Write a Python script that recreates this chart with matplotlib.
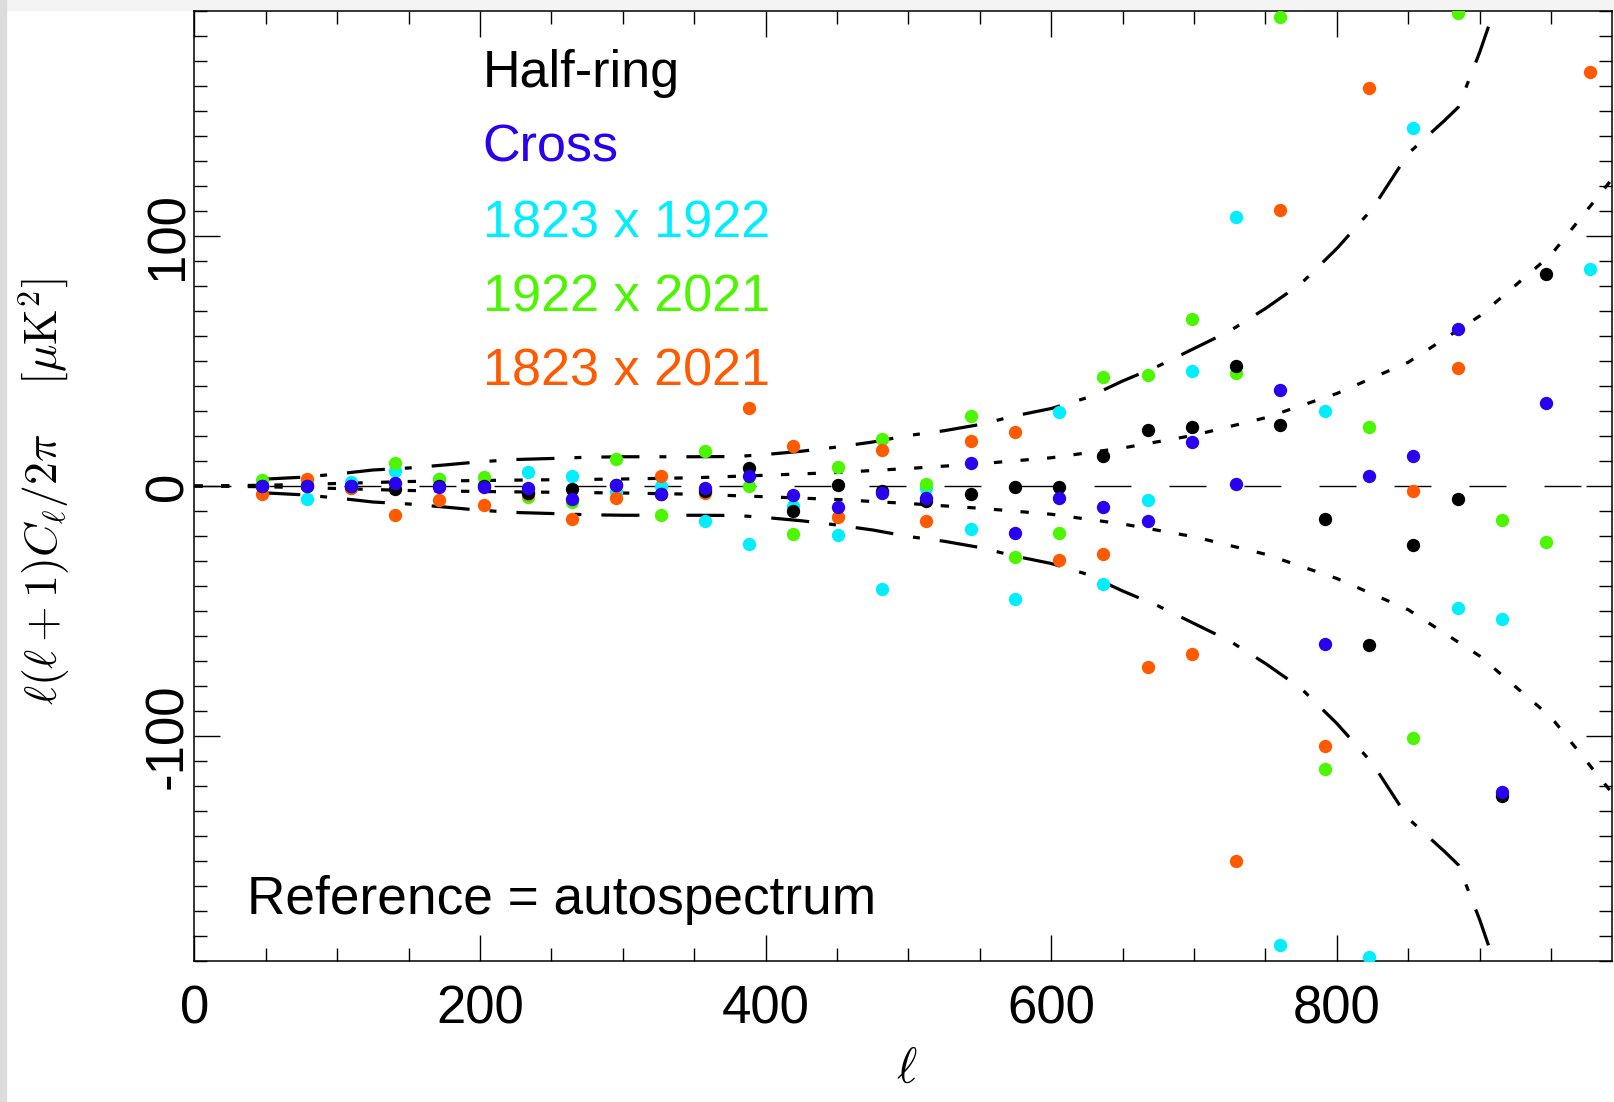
import numpy as np
import matplotlib
matplotlib.use('Agg')
import matplotlib.pyplot as plt
from matplotlib.ticker import MultipleLocator
from matplotlib.patches import Rectangle

plt.rcParams['font.family'] = ['Liberation Sans', 'DejaVu Sans']
plt.rcParams['mathtext.fontset'] = 'cm'
plt.rcParams['lines.scale_dashes'] = False
plt.rcParams['axes.unicode_minus'] = False

nan = np.nan

# bin centres in multipole
ell = 47.5 + 31 * np.arange(31)

half_ring = [0, 0, 0, -1, 0, 0, -2.7, -1.2, 0.3, -3.3,
             -1.9, 7.1, -10, 0.5, -2, -5.9, -3.2, -0.5, -0.2, 12.1,
             22.5, 23.5, 48.1, 24.3, -13.2, -63.7, -23.5, -5.3, -124.1, 84.8,
             nan]
cross = [0, 0, 0, 1.2, -0.4, -0.3, -0.7, -5.3, 0.6, -3,
         -0.6, 4, -3.6, -8.5, -2.6, -4.8, 9.2, -18.6, -4.7, -8.5,
         -14, 17.7, 0.8, 38.4, -63.3, 4.1, 11.9, 63, -122.2, 33.3,
         nan]
x1823_1922 = [0.5, -5, 1.5, 6.2, 2.8, 0.5, 5.7, 3.9, -2.3, 0,
              -13.9, -23, -7.9, -19.5, -41, -0.6, -17, -45.3, 29.8, -39.2,
              -5.7, 46.1, 107.7, -183.6, 30, -188.4, 143.3, -48.7, -53.1, nan,
              86.8]
x1922_2021 = [2.6, 1, -0.8, 9.4, 3, 3.5, -4.4, -6.3, 10.7, -11.6,
              14.2, 0, -19, 7.6, 19, 1, 28.2, -28.2, -18.6, 43.5,
              44.6, 66.8, 45.4, 187.5, -113.2, 23.5, -100.7, 189.3, -13.6, -22.2,
              nan]
x1823_2021 = [-3, 3, -0.7, -11.5, -5.7, -7.5, -3.3, -13, -4.8, 4,
              -2.6, 31.4, 16.1, -12.5, 14.6, -14, 18.2, 21.7, -29.7, -27.3,
              -72.5, -67, -149.9, 110.4, -104, 159.4, -2, 47.2, nan, nan,
              165.7]

# outer envelope (dash-dot)
outer_ell = [47.5, 75, 100, 125, 150, 175, 200, 225, 250, 275, 300, 350, 380,
             400, 425, 450, 475, 500, 525, 550, 575, 600, 625, 650, 675, 700,
             725, 750, 775, 800, 825, 850, 875, 885, 900, 925]
outer_err = [2.7, 3.5, 4.8, 6.4, 7.2, 8.4, 9.7, 10.6, 11.0, 11.5, 11.7, 11.7, 11.8,
             12.6, 13.9, 15.6, 17.6, 20.2, 22.1, 24.6, 28.1, 31.0, 35.3, 42, 48, 55,
             62, 71, 81, 95, 111, 133, 146, 151.5, 173.5, 215]

# inner envelope (dotted)
inner_ell = [0, 50, 100, 150, 200, 250, 300, 350, 400, 450, 500, 550, 600,
             650, 700, 750, 800, 850, 900, 950, 993]
inner_err = [0, 0.3, 1.0, 1.8, 2.2, 2.5, 2.8, 3.3, 4.3, 5.4, 7.0, 8.9, 11.3,
             15.2, 20.3, 27.3, 37, 49.5, 68, 92.5, 123]

series = [
    ('1823 x 1922', x1823_1922, '#00eeff'),
    ('1922 x 2021', x1922_2021, '#4cf500'),
    ('1823 x 2021', x1823_2021, '#ff5a00'),
    ('Half-ring', half_ring, '#000000'),
    ('Cross', cross, '#2a00ee'),
]
legend_order = ['Half-ring', 'Cross', '1823 x 1922', '1922 x 2021', '1823 x 2021']

fig = plt.figure(figsize=(16.14, 11.02), dpi=100)
W, H = 1614, 1102
ax = fig.add_axes([194.4 / W, (H - 961) / H, (1612.5 - 194.4) / W, (961 - 11) / H])

# screenshot borders
fig.patches.append(Rectangle((0, 1 - 10 / H), 1, 10 / H, transform=fig.transFigure,
                             color='#f4f4f4', zorder=-5))
fig.patches.append(Rectangle((0, 0), 6 / W, 1, transform=fig.transFigure,
                             color='#dcdcdc', zorder=-4))

ax.axhline(0, color='black', lw=1.0, dashes=(26.6, 27.4))

oe = np.array(outer_err)
ie = np.array(inner_err)
dashdot = (27.4, 14.4, 5.0, 14.4)
dotted = (6.0, 13.2)
ax.plot(outer_ell, oe, color='black', lw=2.3, dashes=dashdot)
ax.plot(outer_ell, -oe, color='black', lw=2.3, dashes=dashdot)
ax.plot(inner_ell, ie, color='black', lw=2.3, dashes=dotted)
ax.plot(inner_ell, -ie, color='black', lw=2.3, dashes=dotted)

for name, vals, col in series:
    ax.plot(ell, vals, 'o', color=col, ms=9.6, mew=0, zorder=4)

colors = {name: col for name, vals, col in series}
baselines = [0.9203, 0.8414, 0.7618, 0.6835, 0.6053]
for name, yb in zip(legend_order, baselines):
    ax.text(0.2033, yb, name, color=colors[name], fontsize=37.5,
            transform=ax.transAxes, va='baseline')

ax.text(0.037, 0.0495, 'Reference = autospectrum', fontsize=38.3,
        transform=ax.transAxes, va='baseline')

ax.set_xlim(0, 993)
ax.set_ylim(-190, 190)
ax.xaxis.set_major_locator(MultipleLocator(200))
ax.xaxis.set_minor_locator(MultipleLocator(50))
ax.yaxis.set_major_locator(MultipleLocator(100))
ax.yaxis.set_minor_locator(MultipleLocator(10))
ax.tick_params(which='both', direction='in', top=True, right=True, width=1.0)
ax.tick_params(which='major', length=19)
ax.tick_params(which='minor', length=9.5)
ax.tick_params(axis='x', labelsize=38, pad=17)
ax.tick_params(axis='y', labelsize=38, pad=1, labelrotation=90)
for t in ax.get_yticklabels():
    t.set_verticalalignment('center')
for s in ax.spines.values():
    s.set_linewidth(1.1)

ax.set_xlabel(r'$\ell$', fontsize=35)
ax.xaxis.set_label_coords(0.5025, -0.091)
ax.set_ylabel(r'$\ell(\ell+1)C_\ell/2\pi\quad\;[\mu\mathrm{K}^2]$', fontsize=33)
ax.yaxis.set_label_coords(-0.0865, 0.4937)

fig.savefig('out.png', dpi=100)
